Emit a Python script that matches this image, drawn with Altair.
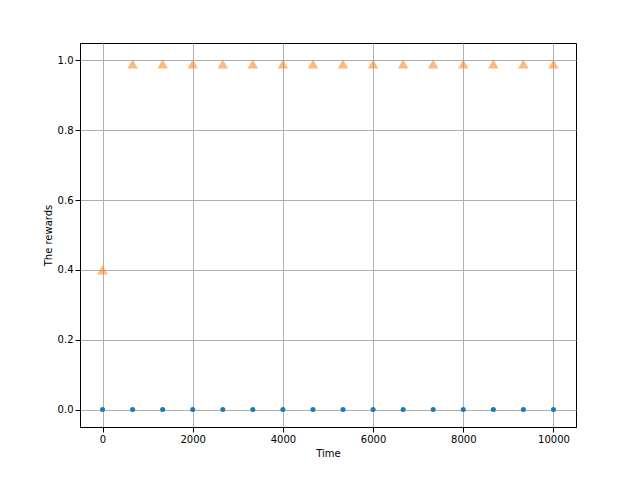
import altair as alt
import pandas as pd

times = [0, 667, 1333, 2000, 2667, 3333, 4000, 4667, 5333, 6000, 6667, 7333, 8000, 8667, 9333, 10000]
child3 = [0.0]*16
child7 = [0.4] + [0.99]*15

rows = []
for t, v in zip(times, child3):
    rows.append({"Time": t, "r": v, "s": "Child 3's rewards"})
for t, v in zip(times, child7):
    rows.append({"Time": t, "r": v, "s": "Child 7's rewards"})
df = pd.DataFrame(rows)

dom = ["Child 3's rewards", "Child 7's rewards"]
chart = alt.Chart(df).mark_point(filled=True).encode(
    x=alt.X("Time:Q", scale=alt.Scale(domain=[-500, 10500], nice=False, zero=False),
            axis=alt.Axis(values=[0, 2000, 4000, 6000, 8000, 10000], title="Time", format="d")),
    y=alt.Y("r:Q", scale=alt.Scale(domain=[-0.05, 1.05], nice=False),
            axis=alt.Axis(values=[0, 0.2, 0.4, 0.6, 0.8, 1.0], format=".1f", title="The rewards")),
    color=alt.Color("s:N", scale=alt.Scale(domain=dom, range=["#1f77b4", "#ff7f0e"]), title=None),
    shape=alt.Shape("s:N", scale=alt.Scale(domain=dom, range=["circle", "triangle-up"]), title=None),
    size=alt.Size("s:N", scale=alt.Scale(domain=dom, range=[25, 110]), legend=None),
    opacity=alt.Opacity("s:N", scale=alt.Scale(domain=dom, range=[1, 0.55]), legend=None),
).properties(
    width=496, height=384,
    autosize=alt.AutoSizeParams(type="none"),
    padding={"left": 72, "top": 35, "right": 56, "bottom": 45},
).configure_axis(
    grid=True, gridColor="#b0b0b0", labelFontSize=10, titleFontSize=10, labelColor="black",
    titleColor="black", titleFontWeight="normal", domainColor="black", tickColor="black",
    labelFont="DejaVu Sans", titleFont="DejaVu Sans"
).configure_legend(
    orient="none", legendX=318, legendY=178, strokeColor="#cccccc", fillColor="white", padding=7,
    labelFontSize=10, labelFont="DejaVu Sans", cornerRadius=3, symbolOpacity=0.8
).configure_view(stroke="black")

chart.save("out.html", embed_options={"renderer": "svg", "actions": False})
